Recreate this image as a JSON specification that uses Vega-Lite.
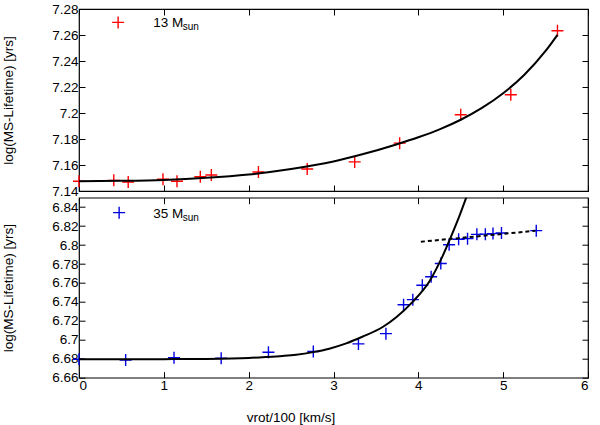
{
  "$schema": "https://vega.github.io/schema/vega-lite/v6.json",
  "autosize": {"type": "pad"},
  "padding": {"left": 0, "top": 1, "right": 5, "bottom": 2},
  "background": "white",
  "config": {
    "font": "Liberation Sans",
    "view": {"stroke": "black", "strokeWidth": 1.2},
    "axis": {
      "domain": false,
      "grid": false,
      "tickSize": -6,
      "tickColor": "black",
      "tickWidth": 1,
      "labelFont": "Liberation Sans",
      "labelFontSize": 13.5,
      "labelColor": "black",
      "labelPadding": 7,
      "titleFont": "Liberation Sans",
      "titleFontSize": 13.5,
      "titleFontWeight": "normal",
      "titleColor": "black"
    }
  },
  "datasets": {
    "m13": [
      {"v": 0, "t": 7.1475}, {"v": 0.41, "t": 7.1482}, {"v": 0.58, "t": 7.1469},
      {"v": 0.99, "t": 7.149}, {"v": 1.155, "t": 7.1475}, {"v": 1.43, "t": 7.151},
      {"v": 1.56, "t": 7.1523}, {"v": 2.115, "t": 7.1546}, {"v": 2.69, "t": 7.1569},
      {"v": 3.25, "t": 7.1624}, {"v": 3.78, "t": 7.1768}, {"v": 4.5, "t": 7.1986},
      {"v": 5.09, "t": 7.214}, {"v": 5.64, "t": 7.2633}
    ],
    "fit13": [
      {"v": 0, "t": 7.1475}, {"v": 0.5, "t": 7.1478}, {"v": 1.0, "t": 7.1485},
      {"v": 1.5, "t": 7.1501}, {"v": 2.0, "t": 7.1527}, {"v": 2.5, "t": 7.1569},
      {"v": 3.0, "t": 7.1627}, {"v": 3.34, "t": 7.1682}, {"v": 3.74, "t": 7.1758},
      {"v": 4.0, "t": 7.1813}, {"v": 4.25, "t": 7.1874}, {"v": 4.5, "t": 7.1948},
      {"v": 4.75, "t": 7.2039}, {"v": 5.0, "t": 7.2152}, {"v": 5.25, "t": 7.2294},
      {"v": 5.5, "t": 7.2477}, {"v": 5.64, "t": 7.2601}
    ],
    "m35": [
      {"v": 0, "t": 6.6794}, {"v": 0.55, "t": 6.6787}, {"v": 1.12, "t": 6.6811},
      {"v": 1.676, "t": 6.6805}, {"v": 2.233, "t": 6.6868}, {"v": 2.762, "t": 6.6876},
      {"v": 3.294, "t": 6.6957}, {"v": 3.618, "t": 6.7065}, {"v": 3.826, "t": 6.737},
      {"v": 3.935, "t": 6.7424}, {"v": 4.047, "t": 6.7576}, {"v": 4.151, "t": 6.7665},
      {"v": 4.265, "t": 6.7806}, {"v": 4.363, "t": 6.8004}, {"v": 4.475, "t": 6.8062},
      {"v": 4.58, "t": 6.8068}, {"v": 4.69, "t": 6.8113}, {"v": 4.79, "t": 6.8115},
      {"v": 4.88, "t": 6.8121}, {"v": 4.98, "t": 6.8128}, {"v": 5.39, "t": 6.8152}
    ],
    "fit35": [
      {"v": 0, "t": 6.6795}, {"v": 0.5, "t": 6.6795}, {"v": 1.0, "t": 6.6796},
      {"v": 1.5, "t": 6.6798}, {"v": 1.8, "t": 6.6802}, {"v": 2.0, "t": 6.6808},
      {"v": 2.2, "t": 6.6818}, {"v": 2.4, "t": 6.683}, {"v": 2.56, "t": 6.6843},
      {"v": 2.76, "t": 6.687}, {"v": 2.95, "t": 6.6906}, {"v": 3.15, "t": 6.6962},
      {"v": 3.34, "t": 6.7032}, {"v": 3.58, "t": 6.7135}, {"v": 3.74, "t": 6.7238},
      {"v": 3.93, "t": 6.7398}, {"v": 4.13, "t": 6.7615}, {"v": 4.28, "t": 6.7872},
      {"v": 4.4, "t": 6.812}, {"v": 4.48, "t": 6.8297}, {"v": 4.56, "t": 6.849},
      {"v": 4.62, "t": 6.864}
    ],
    "sat35": [
      {"v": 4.03, "t": 6.8035}, {"v": 5.38, "t": 6.8151}
    ]
  },
  "spacing": 6.7,
  "bounds": "flush",
  "vconcat": [
    {
      "width": 509,
      "height": 182,
      "layer": [
        {
          "data": {"name": "m13"},
          "mark": {"type": "point", "shape": "M-1,0H1M0,-1V1", "size": 144, "filled": false, "strokeWidth": 1.4, "color": "#ff0000", "opacity": 1},
          "encoding": {
            "x": {"field": "v", "type": "quantitative", "scale": {"domain": [0, 6], "nice": false, "zero": false},
                  "axis": {"orient": "bottom", "labels": false, "values": [0, 1, 2, 3, 4, 5, 6], "title": null}},
            "y": {"field": "t", "type": "quantitative", "scale": {"domain": [7.14, 7.28], "nice": false, "zero": false},
                  "axis": {"orient": "left", "values": [7.14, 7.16, 7.18, 7.2, 7.22, 7.24, 7.26, 7.28], "format": ".3~r",
                           "title": "log(MS-Lifetime) [yrs]", "titleX": -70.5, "titleY": 91, "titleBaseline": "middle"}}
          }
        },
        {
          "data": {"name": "fit13"},
          "mark": {"type": "line", "color": "black", "strokeWidth": 2, "interpolate": "monotone", "clip": true},
          "encoding": {
            "x": {"field": "v", "type": "quantitative", "axis": {"orient": "top", "labels": false, "values": [0, 1, 2, 3, 4, 5, 6], "title": null}},
            "y": {"field": "t", "type": "quantitative", "axis": {"orient": "right", "labels": false, "values": [7.14, 7.16, 7.18, 7.2, 7.22, 7.24, 7.26, 7.28], "title": null}}
          }
        },
        {
          "data": {"values": [{"k": "13"}]},
          "mark": {"type": "point", "shape": "M-1,0H1M0,-1V1", "size": 144, "filled": false, "strokeWidth": 1.4, "color": "#ff0000", "opacity": 1},
          "encoding": {
            "x": {"datum": 0.461, "type": "quantitative", "axis": null},
            "y": {"datum": 7.2697, "type": "quantitative", "axis": null}
          }
        },
        {
          "data": {"values": [{"label": "13 M"}]},
          "mark": {"type": "text", "align": "left", "baseline": "alphabetic", "fontSize": 13.5, "color": "black"},
          "encoding": {
            "x": {"datum": 0.876, "type": "quantitative", "axis": null},
            "y": {"datum": 7.2658, "type": "quantitative", "axis": null},
            "text": {"field": "label"}
          }
        },
        {
          "data": {"values": [{"label": "sun"}]},
          "mark": {"type": "text", "align": "left", "baseline": "alphabetic", "fontSize": 10, "color": "black"},
          "encoding": {
            "x": {"datum": 1.222, "type": "quantitative", "axis": null},
            "y": {"datum": 7.2635, "type": "quantitative", "axis": null},
            "text": {"field": "label"}
          }
        }
      ],
      "resolve": {"axis": {"x": "independent", "y": "independent"}}
    },
    {
      "width": 509,
      "height": 180,
      "layer": [
        {
          "data": {"name": "m35"},
          "mark": {"type": "point", "shape": "M-1,0H1M0,-1V1", "size": 144, "filled": false, "strokeWidth": 1.4, "color": "#0000e0", "opacity": 1},
          "encoding": {
            "x": {"field": "v", "type": "quantitative", "scale": {"domain": [0, 6], "nice": false, "zero": false},
                  "axis": {"orient": "bottom", "values": [0, 1, 2, 3, 4, 5, 6], "format": "d",
                           "title": "vrot/100 [km/s]", "titleX": 211.5, "titleY": 40, "titleBaseline": "middle", "titleAlign": "center"}},
            "y": {"field": "t", "type": "quantitative", "scale": {"domain": [6.66, 6.85], "nice": false, "zero": false},
                  "axis": {"orient": "left", "values": [6.66, 6.68, 6.7, 6.72, 6.74, 6.76, 6.78, 6.8, 6.82, 6.84], "format": ".3~r",
                           "title": "log(MS-Lifetime) [yrs]", "titleX": -70.5, "titleY": 90, "titleBaseline": "middle"}}
          }
        },
        {
          "data": {"name": "fit35"},
          "mark": {"type": "line", "color": "black", "strokeWidth": 2, "interpolate": "monotone", "clip": true},
          "encoding": {
            "x": {"field": "v", "type": "quantitative", "axis": {"orient": "top", "labels": false, "values": [0, 1, 2, 3, 4, 5, 6], "title": null}},
            "y": {"field": "t", "type": "quantitative", "axis": {"orient": "right", "labels": false, "values": [6.66, 6.68, 6.7, 6.72, 6.74, 6.76, 6.78, 6.8, 6.82, 6.84], "title": null}}
          }
        },
        {
          "data": {"name": "sat35"},
          "mark": {"type": "line", "color": "black", "strokeWidth": 2, "strokeDash": [4, 3], "clip": true},
          "encoding": {
            "x": {"field": "v", "type": "quantitative", "axis": null},
            "y": {"field": "t", "type": "quantitative", "axis": null}
          }
        },
        {
          "data": {"values": [{"k": "35"}]},
          "mark": {"type": "point", "shape": "M-1,0H1M0,-1V1", "size": 144, "filled": false, "strokeWidth": 1.4, "color": "#0000e0", "opacity": 1},
          "encoding": {
            "x": {"datum": 0.473, "type": "quantitative", "axis": null},
            "y": {"datum": 6.8342, "type": "quantitative", "axis": null}
          }
        },
        {
          "data": {"values": [{"label": "35 M"}]},
          "mark": {"type": "text", "align": "left", "baseline": "alphabetic", "fontSize": 13.5, "color": "black"},
          "encoding": {
            "x": {"datum": 0.876, "type": "quantitative", "axis": null},
            "y": {"datum": 6.8283, "type": "quantitative", "axis": null},
            "text": {"field": "label"}
          }
        },
        {
          "data": {"values": [{"label": "sun"}]},
          "mark": {"type": "text", "align": "left", "baseline": "alphabetic", "fontSize": 10, "color": "black"},
          "encoding": {
            "x": {"datum": 1.222, "type": "quantitative", "axis": null},
            "y": {"datum": 6.8252, "type": "quantitative", "axis": null},
            "text": {"field": "label"}
          }
        }
      ],
      "resolve": {"axis": {"x": "independent", "y": "independent"}}
    }
  ]
}
